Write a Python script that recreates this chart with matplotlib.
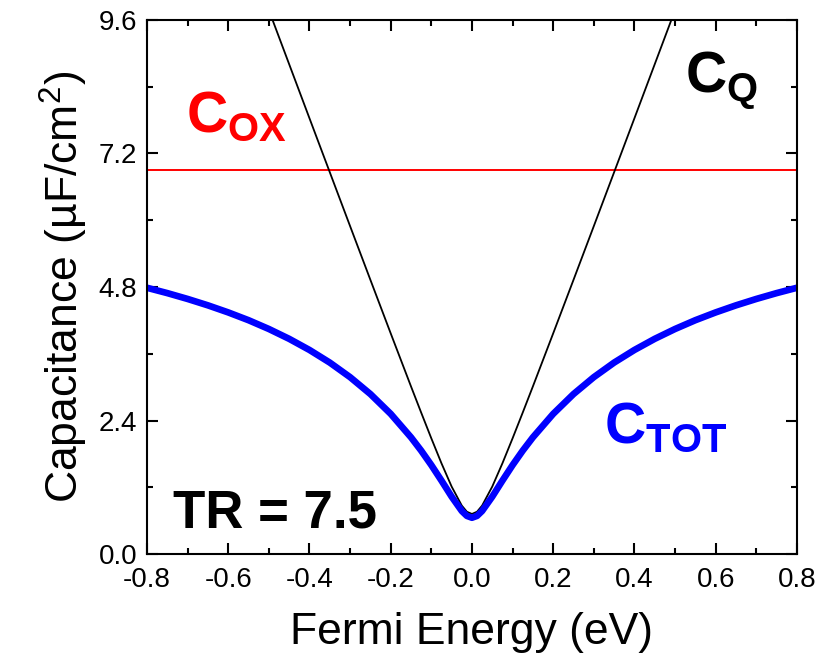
import numpy as np
import matplotlib
matplotlib.use("Agg")
import matplotlib.pyplot as plt
from matplotlib.ticker import MultipleLocator, FormatStrFormatter

# ---
# data
# ---
energy = [-0.8, -0.75, -0.7, -0.65, -0.6, -0.55, -0.5, -0.45, -0.4, -0.35, -0.3, -0.25, -0.2,
          -0.15, -0.125, -0.1, -0.075, -0.05, -0.025, -0.0125, 0.0,
          0.0125, 0.025, 0.05, 0.075, 0.1, 0.125, 0.15,
          0.2, 0.25, 0.3, 0.35, 0.4, 0.45, 0.5, 0.55, 0.6, 0.65, 0.7, 0.75, 0.8]

# total capacitance (blue)
c_tot = [4.786, 4.690, 4.585, 4.470, 4.343, 4.203, 4.045, 3.868, 3.668, 3.441, 3.179, 2.875, 2.519,
         2.097, 1.858, 1.598, 1.319, 1.031, 0.773, 0.685, 0.652,
         0.685, 0.773, 1.031, 1.319, 1.598, 1.858, 2.097,
         2.519, 2.875, 3.179, 3.441, 3.668, 3.868, 4.045, 4.203, 4.343, 4.470, 4.585, 4.690, 4.786]

# quantum capacitance (black), runs off the top of the axes
energy_q = [-0.55, -0.5, -0.45, -0.4, -0.35, -0.3, -0.25, -0.2,
            -0.15, -0.125, -0.1, -0.075, -0.05, -0.025, -0.0125, 0.0,
            0.0125, 0.025, 0.05, 0.075, 0.1, 0.125, 0.15,
            0.2, 0.25, 0.3, 0.35, 0.4, 0.45, 0.5, 0.55]
c_q = [10.749, 9.777, 8.805, 7.833, 6.863, 5.894, 4.928, 3.966,
       3.012, 2.542, 2.079, 1.630, 1.212, 0.870, 0.760, 0.720,
       0.760, 0.870, 1.212, 1.630, 2.079, 2.542, 3.012,
       3.966, 4.928, 5.894, 6.863, 7.833, 8.805, 9.777, 10.749]

# oxide capacitance (red, constant)
c_ox = 6.9

# ---
# plot
# ---
plt.rcParams['font.family'] = ['Liberation Sans', 'DejaVu Sans']
plt.rcParams['mathtext.fontset'] = 'custom'
plt.rcParams['mathtext.rm'] = 'Liberation Sans'
plt.rcParams['mathtext.bf'] = 'Liberation Sans:bold'
plt.rcParams['axes.unicode_minus'] = False

fig = plt.figure(figsize=(8.19, 6.6), dpi=100)
ax = fig.add_axes([0.1795, 0.1606, 0.7935, 0.8091])

ax.axhline(c_ox, color='#ff0000', lw=1.4)
ax.plot(energy_q, c_q, color='black', lw=1.3)
ax.plot(energy, c_tot, color='#0000ff', lw=4.8, solid_capstyle='butt')

ax.set_xlim(-0.8, 0.8)
ax.set_ylim(0, 9.6)
ax.xaxis.set_major_locator(MultipleLocator(0.2))
ax.xaxis.set_minor_locator(MultipleLocator(0.1))
ax.yaxis.set_major_locator(MultipleLocator(2.4))
ax.yaxis.set_minor_locator(MultipleLocator(1.2))
ax.xaxis.set_major_formatter(FormatStrFormatter('%.1f'))
ax.yaxis.set_major_formatter(FormatStrFormatter('%.1f'))

ax.tick_params(which='both', direction='in', top=True, right=True, width=1.5)
ax.tick_params(which='major', length=8, labelsize=20, pad=7)
ax.tick_params(axis='x', which='major', pad=9)
ax.tick_params(which='minor', length=4.5)
for s in ax.spines.values():
    s.set_linewidth(1.5)

ax.set_xlabel('Fermi Energy (eV)', fontsize=32, labelpad=14)
ax.set_ylabel('Capacitance (µF/cm$^{2}$)', fontsize=32, labelpad=6)

# curve labels
ax.text(-0.705, 7.6, r'$\mathbf{C}_{\mathbf{OX}}$', color='#ff0000', fontsize=41)
ax.text(0.525, 8.3, r'$\mathbf{C}_{\mathbf{Q}}$', color='black', fontsize=41)
ax.text(0.325, 2.0, r'$\mathbf{C}_{\mathbf{TOT}}$', color='#0000ff', fontsize=41)
ax.text(-0.735, 0.47, 'TR = 7.5', fontsize=38, fontweight='bold')

fig.savefig('out.png', dpi=100)
